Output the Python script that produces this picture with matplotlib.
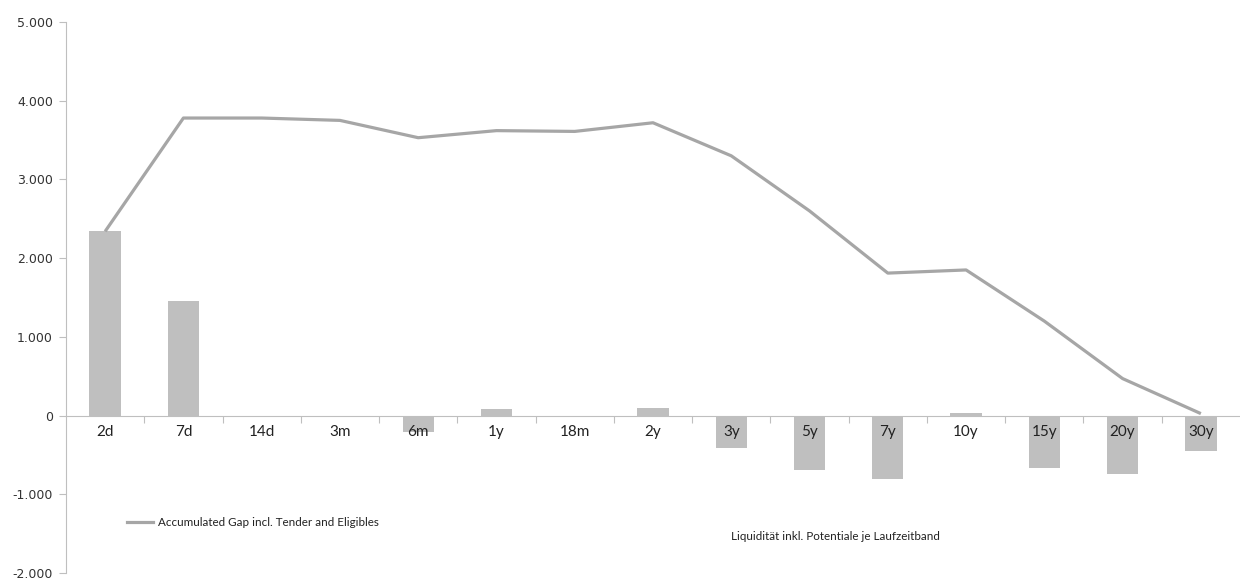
import matplotlib
matplotlib.use("Agg")
import matplotlib.pyplot as plt
from matplotlib.lines import Line2D
from matplotlib.ticker import FuncFormatter

categories = ["2d", "7d", "14d", "3m", "6m", "1y", "18m", "2y", "3y", "5y", "7y", "10y", "15y", "20y", "30y"]
gap_values = [2350, 1460, 0, -15, -210, 80, 0, 100, -415, -695, -805, 35, -660, -737, -453]
accumulated = [2340, 3780, 3780, 3750, 3530, 3620, 3610, 3720, 3300, 2600, 1810, 1850, 1200, 470, 25]
line_label = "Accumulated Gap incl. Tender and Eligibles"
bar_label = "Liquidität inkl. Potentiale je Laufzeitband"

W, H = 1240, 579
fig = plt.figure(figsize=(W / 100, H / 100), dpi=100)
ax = fig.add_axes([66 / W, 1 - 573 / H, 1174 / W, (573 - 22) / H])

x = list(range(len(categories)))
ax.bar(x, gap_values, width=0.4, color="#BFBFBF", zorder=2)
ax.plot(x, accumulated, color="#A6A6A6", lw=2.3, zorder=3, solid_capstyle="butt")

ax.set_xlim(-0.5, len(categories) - 0.5)
ax.set_ylim(-2000, 5000)
ax.set_yticks(range(-2000, 5001, 1000))
ax.yaxis.set_major_formatter(FuncFormatter(lambda v, p: f"{int(v):,}".replace(",", ".")))

for s in ["top", "right"]:
    ax.spines[s].set_visible(False)
ax.spines["bottom"].set_position(("data", 0))
ax.spines["bottom"].set_color("#BFBFBF")
ax.spines["left"].set_color("#BFBFBF")
ax.spines["bottom"].set_zorder(1)

ax.set_xticks([i + 0.5 for i in x[:-1]])
ax.set_xticklabels([])
ax.tick_params(axis="x", direction="out", length=5, color="#BFBFBF")
ax.tick_params(axis="y", direction="out", length=5, color="#BFBFBF",
               labelsize=9, labelcolor="#333333", pad=4.5)
for lbl in ax.get_yticklabels():
    lbl.set_family("DejaVu Sans")

for i, c in zip(x, categories):
    ax.annotate(c, xy=(i, 0), xytext=(0, -16), textcoords="offset pixels",
                ha="center", va="center", fontsize=11, family="Lato",
                color="#222222", zorder=5)

# legend entries
fig.add_artist(Line2D([127 / W, 153 / W], [1 - 522 / H, 1 - 522 / H],
                      color="#A6A6A6", lw=2.3, transform=fig.transFigure))
fig.text(158 / W, 1 - 522 / H, line_label, fontsize=8.4, family="Lato",
         va="center", ha="left", color="#222222")
fig.text(731 / W, 1 - 537 / H, bar_label, fontsize=8.4, family="Lato",
         va="center", ha="left", color="#222222")

fig.savefig("out.png", dpi=100)
